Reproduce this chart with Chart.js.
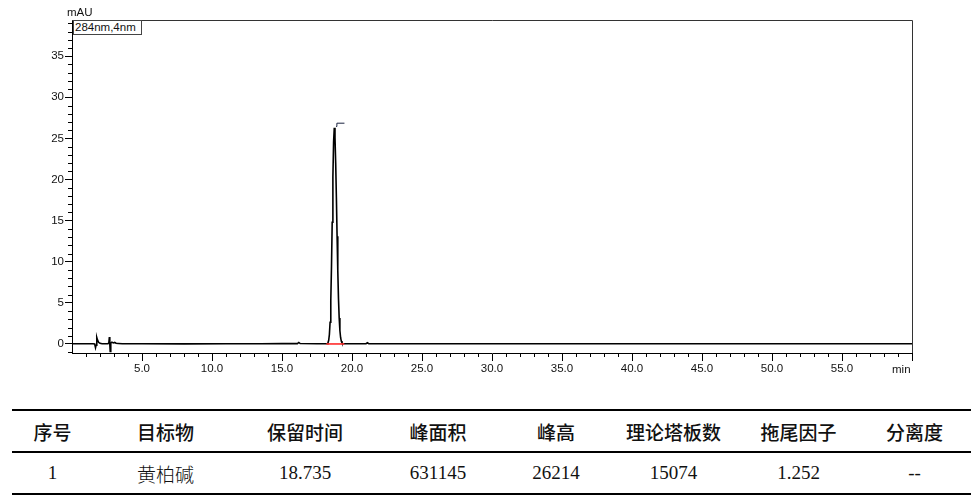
<!DOCTYPE html>
<html>
<head>
<meta charset="utf-8">
<script src="https://cdn.jsdelivr.net/npm/chart.js@4.4.1/dist/chart.umd.min.js"></script>
<style>
  html, body { margin: 0; padding: 0; background: #fff; }
  body { width: 978px; height: 500px; position: relative; overflow: hidden; font-family: "Liberation Sans", Arial, sans-serif; }
  #wrap { position: absolute; left: 0; top: 0; width: 978px; height: 390px; }
  .lbl { position: absolute; font-size: 11.5px; color: #111; line-height: 1; white-space: nowrap; }
  #legendBox { position: absolute; left: 73px; top: 20px; width: 66px; height: 13px; border: 1px solid #444; font-size: 11.5px; line-height: 13px; padding-left: 1px; color: #111; background: #fff; }
  .tbl { position: absolute; left: 12px; top: 409px; width: 959px; border-top: 2px solid #000; border-bottom: 2px solid #000; }
  .row { display: flex; height: 40px; align-items: center; }
  .row.head { border-bottom: 2px solid #000; font-family: "Noto Sans CJK SC", sans-serif; font-size: 19px; font-weight: 500; color: #111; }
  .row.body { font-family: "Liberation Serif", "Noto Sans CJK SC", serif; font-size: 19px; color: #111; }
  .row div { text-align: center; }
  .cjk { font-family: "Noto Sans CJK SC", sans-serif; font-weight: 300; }
</style>
</head>
<body>
<div id="wrap"><canvas id="chrom"></canvas></div>
<div class="lbl" style="left:67px; top:7px;">mAU</div>
<div id="legendBox">284nm,4nm</div>
<div class="lbl" style="left:892px; top:364px;">min</div>

<div class="tbl">
  <div class="row head" id="headRow"></div>
  <div class="row body" id="bodyRow"></div>
</div>

<script>
// chromatogram trace (retention time, min / absorbance, mAU)
const rtMin = [0.00, 1.50, 1.62, 1.68, 1.72, 1.77, 1.82, 1.90, 2.00, 2.15,
  2.55, 2.63, 2.67, 2.70, 2.73, 2.77, 2.85, 2.95, 3.05, 3.15, 3.30, 3.60,
  5.00, 8.00, 11.0, 13.5, 15.0, 16.1, 16.2, 16.3, 17.5, 18.1,
  18.235, 18.285, 18.335, 18.385, 18.435, 18.485, 18.535, 18.585, 18.635, 18.685,
  18.735, 18.785, 18.835, 18.885, 18.935, 18.985, 19.035, 19.085, 19.135, 19.185,
  19.235, 19.285, 19.335, 19.435, 19.70, 21.0, 21.1, 21.2, 21.4,
  25.0, 30.0, 35.0, 40.0, 45.0, 50.0, 55.0, 60.0];
const mAU = [0.02, 0.02, 0.00, -0.45, -0.15, 0.80, 0.50, 0.20, 0.08, 0.03,
  0.03, 0.10, 0.85, 0.00, -0.90, 0.10, 0.22, 0.12, 0.18, 0.08, 0.06, 0.03,
  0.02, 0.01, 0.02, 0.02, 0.04, 0.04, 0.18, 0.05, 0.02, 0.02,
  0.04, 0.15, 0.44, 1.15, 2.64, 5.30, 9.40, 14.8, 20.3, 24.6,
  26.3, 25.1, 22.0, 17.8, 13.1, 8.90, 5.50, 3.15, 1.64, 0.79,
  0.35, 0.14, 0.05, 0.02, 0.03, 0.03, 0.15, 0.04, 0.03,
  0.02, 0.02, 0.02, 0.02, 0.02, 0.02, 0.02, 0.02];

// integration baseline under the peak
const baseX = [18.17, 19.45];
const baseY = [0.0, 0.0];
// peak-top marker
const markX = [18.86, 18.92, 19.46];
const markY = [26.45, 26.85, 26.85];

const xTicks = [5, 10, 15, 20, 25, 30, 35, 40, 45, 50, 55, 60];
const yTicks = [0, 5, 10, 15, 20, 25, 30, 35];

// results table
const headers = ["序号", "目标物", "保留时间", "峰面积", "峰高", "理论塔板数", "拖尾因子", "分离度"];
const rowVals = ["1", "黄柏碱", "18.735", "631145", "26214", "15074", "1.252", "--"];
const colW = [81, 145, 134, 132, 104, 131, 119, 113];

const headRow = document.getElementById('headRow');
const bodyRow = document.getElementById('bodyRow');
headers.forEach((h, i) => {
  const d = document.createElement('div');
  d.style.width = colW[i] + 'px';
  d.textContent = h;
  headRow.appendChild(d);
});
rowVals.forEach((v, i) => {
  const d = document.createElement('div');
  d.style.width = colW[i] + 'px';
  d.textContent = v;
  if (/[\u4e00-\u9fff]/.test(v)) d.className = 'cjk';
  bodyRow.appendChild(d);
});

const toPts = (xs, ys) => xs.map((x, i) => ({ x, y: ys[i] }));

const frameAndMinor = {
  id: 'frameAndMinor',
  afterDraw(chart) {
    const { ctx, chartArea: a, scales: { x, y } } = chart;
    ctx.save();
    ctx.lineWidth = 1;
    ctx.strokeStyle = '#333';
    ctx.beginPath();
    ctx.moveTo(a.left, a.top + 0.5);
    ctx.lineTo(a.right + 0.5, a.top + 0.5);
    ctx.lineTo(a.right + 0.5, a.bottom);
    ctx.stroke();
    ctx.strokeStyle = '#000';
    ctx.beginPath();
    for (let v = 1; v < 60; v++) {
      if (v % 5 === 0) continue;
      const px = Math.round(x.getPixelForValue(v)) + 0.5;
      ctx.moveTo(px, a.bottom);
      ctx.lineTo(px, a.bottom + 4);
    }
    for (let v = -1; v <= 39; v++) {
      if (v % 5 === 0) continue;
      const py = Math.round(y.getPixelForValue(v)) + 0.5;
      ctx.moveTo(a.left - 4, py);
      ctx.lineTo(a.left, py);
    }
    ctx.stroke();
    ctx.restore();
  }
};

const tickFont = { family: '"Liberation Sans", Arial, sans-serif', size: 11.5 };

new Chart(document.getElementById('chrom'), {
  type: 'scatter',
  data: {
    datasets: [
      { data: toPts(baseX, baseY), showLine: true, borderColor: '#ff2a2a', borderWidth: 1.6, pointRadius: 0, order: 0 },
      { data: toPts(markX, markY), showLine: true, borderColor: '#1b2340', borderWidth: 1, pointRadius: 0, order: 1 },
      { data: toPts(rtMin, mAU), showLine: true, borderColor: '#000', borderWidth: 1.6, pointRadius: 0, tension: 0, order: 2 }
    ]
  },
  options: {
    responsive: true,
    maintainAspectRatio: false,
    animation: false,
    layout: { padding: { top: 20, right: 66, left: 0, bottom: 0 } },
    plugins: { legend: { display: false }, tooltip: { enabled: false } },
    scales: {
      x: {
        type: 'linear', min: 0, max: 60,
        afterFit: s => { s.height = 37; },
        afterBuildTicks: s => { s.ticks = xTicks.map(v => ({ value: v })); },
        grid: { drawOnChartArea: false, drawTicks: true, tickLength: 8, color: '#000' },
        border: { display: true, color: '#000', width: 1 },
        ticks: { font: tickFont, color: '#111', padding: 1, maxRotation: 0, autoSkip: false,
          callback: v => v === 60 ? '' : v.toFixed(1) }
      },
      y: {
        type: 'linear', min: -1.1, max: 39.4,
        afterFit: s => { s.width = 72; },
        afterBuildTicks: s => { s.ticks = yTicks.map(v => ({ value: v })); },
        grid: { drawOnChartArea: false, drawTicks: true, tickLength: 7, color: '#000' },
        border: { display: true, color: '#000', width: 1 },
        ticks: { font: tickFont, color: '#111', padding: 1, autoSkip: false, callback: v => String(v) }
      }
    }
  },
  plugins: [frameAndMinor]
});
</script>
</body>
</html>
